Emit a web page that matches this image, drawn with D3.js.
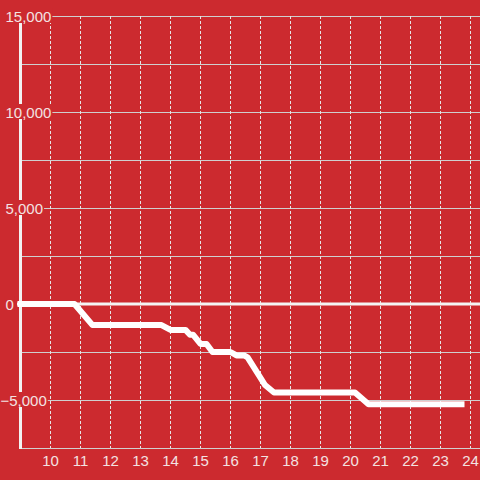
<!DOCTYPE html>
<html>
<head>
<meta charset="utf-8">
<script src="https://cdn.jsdelivr.net/npm/d3@7"></script>
<style>
  html, body { margin: 0; padding: 0; background: #cc2a2f; }
  svg { display: block; }
  text { font-family: "Liberation Sans", Arial, sans-serif; }
</style>
</head>
<body>
<svg id="chart" width="480" height="480"></svg>
<script>
// ---- data ----
const xTicks = [10, 11, 12, 13, 14, 15, 16, 17, 18, 19, 20, 21, 22, 23, 24];
const yTicks = [-5000, 0, 5000, 10000, 15000];
const yGrid = [-5000, -2500, 2500, 5000, 7500, 10000, 12500, 15000];
const hours = [9, 10.8, 11.4, 13.7, 14.0, 14.5, 14.65, 14.75, 15.0, 15.2, 15.4, 16.0, 16.2, 16.45, 16.57, 17.15, 17.45, 20.15, 20.6, 23.7];
const values = [0, 0, -1100, -1100, -1350, -1350, -1600, -1600, -2080, -2080, -2500, -2500, -2680, -2680, -2780, -4220, -4610, -4610, -5220, -5220];

const BG = "#cc2a2f";
const W = 480, H = 480;
const svg = d3.select("#chart");
svg.append("rect").attr("width", W).attr("height", H).attr("fill", BG);

const x = d3.scaleLinear().domain([9, 9 + 459.5 / 30]).range([20.5, 480]);
const y = d3.scaleLinear().domain([-7500, 15000]).range([448, 16]);

// horizontal gridlines
svg.append("g").selectAll("line").data(yGrid).join("line")
  .attr("x1", 20).attr("x2", W)
  .attr("y1", d => y(d) + 0.5).attr("y2", d => y(d) + 0.5)
  .attr("stroke", "#cfcfcf").attr("stroke-width", 1);

// vertical dashed gridlines
svg.append("g").selectAll("line").data(xTicks).join("line")
  .attr("x1", d => x(d)).attr("x2", d => x(d))
  .attr("y1", y(15000)).attr("y2", y(-7500))
  .attr("stroke", "#e6e6e6").attr("stroke-width", 1)
  .attr("stroke-dasharray", "3,2");

// bottom axis line
svg.append("line").attr("x1", 20).attr("x2", W)
  .attr("y1", y(-7500) + 0.5).attr("y2", y(-7500) + 0.5)
  .attr("stroke", "#d0d0d0").attr("stroke-width", 1);

// zero line
svg.append("line").attr("x1", 17).attr("x2", W)
  .attr("y1", y(0)).attr("y2", y(0))
  .attr("stroke", "#f4f4f4").attr("stroke-width", 3);

// y axis line
svg.append("line").attr("x1", x(9)).attr("x2", x(9))
  .attr("y1", y(15000)).attr("y2", y(-7500) + 1)
  .attr("stroke", "#f2f2f2").attr("stroke-width", 3);

// data line
const line = d3.line().x((d, i) => x(hours[i])).y(d => y(d));
svg.append("path").datum(values)
  .attr("d", line)
  .attr("fill", "none")
  .attr("stroke", "#ffffff")
  .attr("stroke-width", 6)
  .attr("stroke-linejoin", "round")
  .attr("stroke-linecap", "square");

// x tick labels
svg.append("g").selectAll("text").data(xTicks).join("text")
  .attr("x", d => x(d)).attr("y", 466)
  .attr("text-anchor", "middle")
  .attr("font-size", 15)
  .attr("fill", "#f3e2e2")
  .text(d => d);

// y tick labels with background
const fmt = d3.format(",");
const yl = svg.append("g");
yTicks.forEach(v => {
  const g = yl.append("g");
  const t = g.append("text")
    .attr("y", y(v) + 5.5)
    .attr("font-size", 15)
    .attr("fill", "#f3e2e2")
    .text(fmt(v));
  let x0 = 5.5;
  if (v < 0) {
    const tmp = yl.append("text").attr("font-size", 15).text("-");
    x0 -= tmp.node().getComputedTextLength();
    tmp.remove();
  }
  t.attr("x", x0);
  const bb = t.node().getBBox();
  g.insert("rect", "text")
    .attr("x", bb.x - 1).attr("y", y(v) - 8)
    .attr("width", bb.width + 2).attr("height", 15)
    .attr("fill", BG);
});
</script>
</body>
</html>
